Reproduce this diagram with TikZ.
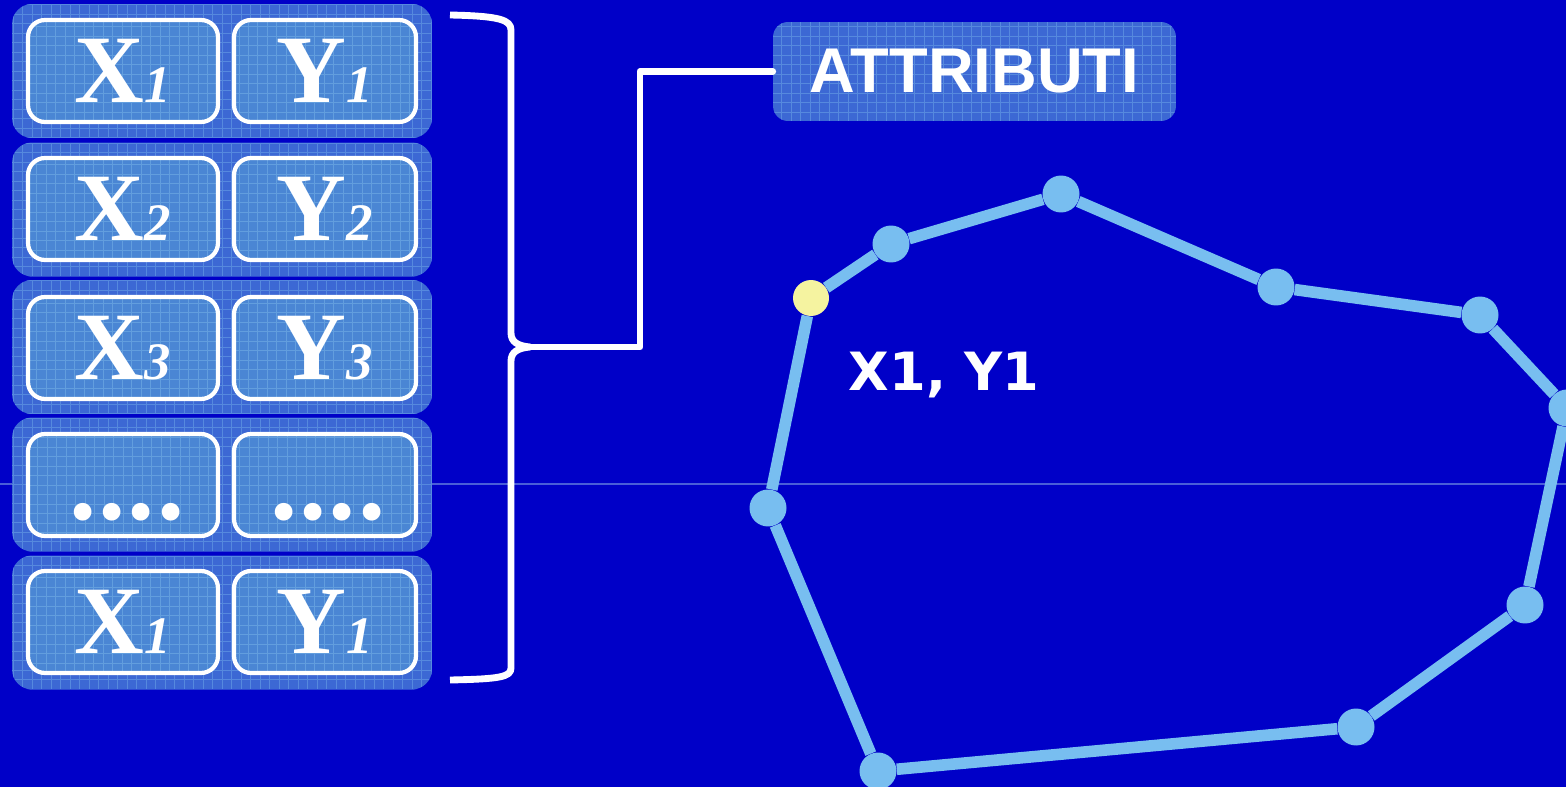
\documentclass[tikz,border=0pt]{standalone}
\usepackage{fontspec}
\setmainfont{Liberation Serif}
\newfontfamily\sansb{Liberation Sans}
\newfontfamily\labfont{DejaVu Sans}
\usetikzlibrary{calc}
\definecolor{bgblue}{HTML}{0000C8}
\definecolor{rowfill}{HTML}{3C68D4}
\definecolor{rowgrid}{HTML}{5689DE}
\definecolor{cellfill}{HTML}{4A86D4}
\definecolor{cellgrid}{HTML}{629EDE}
\definecolor{polyc}{HTML}{78BEF0}
\definecolor{firstpt}{HTML}{F5F3A0}
\definecolor{faintline}{HTML}{4A5ED8}
\newcommand{\Xc}[1]{{\fontsize{55}{55}\selectfont\bfseries X}{\fontsize{30}{30}\selectfont\bfseries\itshape #1}}
\newcommand{\Yc}[1]{{\fontsize{55}{55}\selectfont\bfseries Y}{\fontsize{30}{30}\selectfont\bfseries\itshape #1}}
\begin{document}
\begin{tikzpicture}[x=0.02cm,y=-0.02cm,
  gridded/.style={path picture={\draw[#1, line width=0.5pt] (path picture bounding box.south west) grid[step=0.19cm] (path picture bounding box.north east);}},
  rowbox/.style={rounded corners=0.4cm, fill=rowfill, gridded=rowgrid, minimum width=8.4cm, minimum height=2.68cm, inner sep=0pt},
  cellbox/.style={rounded corners=0.34cm, draw=white, line width=2.4pt, fill=cellfill, gridded=cellgrid, minimum height=2.04cm, inner sep=0pt, text=white},
  xcell/.style={cellbox, minimum width=3.8cm},
  ycell/.style={cellbox, minimum width=3.64cm},
  dotstext/.style={anchor=base, text=white, inner sep=0pt, font=\fontsize{62}{62}\selectfont\bfseries\addfontfeature{LetterSpace=2}},
  attrbox/.style={rounded corners=0.3cm, fill=rowfill, gridded=rowgrid, minimum width=8.06cm, minimum height=1.98cm, inner sep=0pt, text=white, font=\sansb\bfseries\fontsize{36}{36}\selectfont},
  whiteline/.style={draw=white, line width=3.9pt, line cap=round, line join=round},
  poly/.style={draw=polyc, line width=6.6pt},
  pt/.style={circle, fill=polyc, minimum size=0.74cm, inner sep=0pt},
  firstptstyle/.style={circle, fill=firstpt, minimum size=0.72cm, inner sep=0pt},
  lab/.style={text=white, font=\labfont\bfseries\fontsize{30}{30}\selectfont, inner sep=0pt}
]
\fill[bgblue] (0,0) rectangle (1566,787);
\useasboundingbox (0,0) rectangle (1566,787);
\draw[faintline, line width=0.6pt] (0,484) -- (1566,484);

% rows
\node[rowbox] (r1) at (222,71) {};
\node[rowbox] (r2) at (222,209.5) {};
\node[rowbox] (r3) at (222,347) {};
\node[rowbox] (r4) at (222,484.5) {};
\node[rowbox] (r5) at (222,622.5) {};

\node[xcell] (x1) at (123,71) {\Xc{1}};
\node[ycell] (y1) at (325,71) {\Yc{1}};
\node[xcell] (x2) at (123,209) {\Xc{2}};
\node[ycell] (y2) at (325,209) {\Yc{2}};
\node[xcell] (x3) at (123,348) {\Xc{3}};
\node[ycell] (y3) at (325,348) {\Yc{3}};
\node[xcell] (x4) at (123,485) {};
\node[ycell] (y4) at (325,485) {};
\node[dotstext] (dx) at (127,519) {....};
\node[dotstext] (dy) at (328,519) {....};
\node[xcell] (x5) at (123,622) {\Xc{1}};
\node[ycell] (y5) at (325,622) {\Yc{1}};

% brace
\coordinate (btop) at (450,15);
\coordinate (bbot) at (450,680);
\coordinate (tip) at (530,347);
\draw[whiteline, line cap=butt] (btop) .. controls (500,16) and (511,20) .. (511,30) -- (511,333)
   .. controls (511,342) and (518,346) .. (tip)
   .. controls (518,348) and (511,352) .. (511,361) -- (511,668)
   .. controls (511,677) and (500,679) .. (bbot);

% attributes label and connector
\node[attrbox] (attr) at (974.5,71.5) {ATTRIBUTI};
\coordinate (corner) at (640,347);
\draw[whiteline] (tip) -- (corner) |- (attr.west);

% polygon
\node[firstptstyle] (p1) at (811,298) {};
\node[pt] (p2) at (891,244) {};
\node[pt] (p3) at (1061,194) {};
\node[pt] (p4) at (1276,287) {};
\node[pt] (p5) at (1480,315) {};
\node[pt] (p6) at (1567,408) {};
\node[pt] (p7) at (1525,605) {};
\node[pt] (p8) at (1356,727) {};
\node[pt] (p9) at (878,771) {};
\node[pt] (p10) at (768,508) {};
\foreach \a/\b in {p1/p2,p2/p3,p3/p4,p4/p5,p5/p6,p6/p7,p7/p8,p8/p9,p9/p10,p10/p1}
  \draw[poly] (\a) -- (\b);

\node[lab] (l1) at (944,375) {X1, Y1};
\end{tikzpicture}
\end{document}
